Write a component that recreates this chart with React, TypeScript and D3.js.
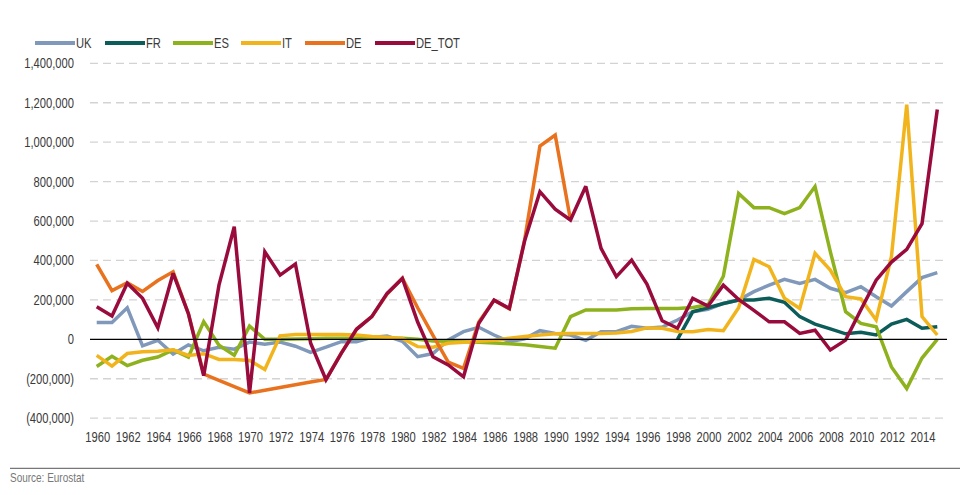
import React from "react";
import * as d3 from "d3";

const years: number[] = d3.range(1960, 2016);

const seriesNames = ["UK", "FR", "ES", "IT", "DE", "DE_TOT"];
const seriesColors = ["#8099BA", "#0C5C5A", "#8EB21E", "#F2B41C", "#E8721E", "#9A0B3D"];

// values in thousands, 1960..2015 (null = no data)
const UK = [85, 85, 160, -33, -5, -75, -28, -58, -40, -50, -14, -25, -14, -35, -66, -40, -12, -12, 10, 17, -10, -88, -72, -3, 39, 61, 22, -12, 3, 44, 30, 22, -5, 39, 39, 66, 56, 62, 98, 140, 152, 182, 199, 242, 275, 304, 284, 304, 259, 237, 267, 216, 169, 242, 313, 338];
const FR = [null, null, null, null, null, null, null, null, null, null, null, null, null, null, null, null, null, null, null, null, null, null, null, null, null, null, null, null, null, null, null, null, null, null, null, null, null, null, 0, 140, 160, 182, 199, 200, 208, 188, 115, 77, 53, 28, 36, 22, 77, 101, 56, 64];
const ES = [-138, -86, -133, -106, -90, -54, -90, 90, -30, -81, 67, 0, 0, 2, 3, 5, 5, 5, 5, 5, 5, 0, -8, -10, -12, -15, -18, -22, -28, -36, -45, 115, 149, 149, 149, 155, 157, 157, 157, 162, 175, 320, 740, 668, 668, 637, 668, 775, 445, 140, 81, 64, -140, -250, -95, 0];
const IT = [-81, -136, -72, -63, -60, -53, -82, -73, -102, -102, -107, -153, 18, 25, 25, 25, 25, 22, 15, 10, 5, -37, -40, -20, -15, -10, -5, 5, 14, 22, 28, 30, 30, 30, 32, 40, 58, 56, 40, 39, 50, 44, 160, 405, 368, 208, 157, 436, 351, 216, 205, 98, 420, 1190, 115, 22];
const DE = [380, 247, 287, 243, 298, 343, 130, -176, -208, -240, -272, -258, -244, -230, -216, -203, -70, 52, 115, 230, 310, 160, 20, -115, -147, 88, 198, 155, 505, 980, 1036, 605, null, null, null, null, null, null, null, null, null, null, null, null, null, null, null, null, null, null, null, null, null, null, null, null];
const DE_TOT = [165, 118, 284, 208, 59, 335, 130, -184, 275, 571, -272, 444, 326, 382, -20, -205, -71, 51, 115, 233, 309, 88, -88, -130, -190, 81, 199, 157, 500, 749, 660, 605, 776, 461, 318, 402, 280, 94, 56, 208, 169, 275, 202, 147, 89, 89, 30, 46, -54, -4, 150, 300, 392, 456, 587, 1166];

const seriesValues = [UK, FR, ES, IT, DE, DE_TOT];

const yTicks = [-400000, -200000, 0, 200000, 400000, 600000, 800000, 1000000, 1200000, 1400000];
const xTickYears = d3.range(1960, 2015, 2);

const FONT = "'Liberation Sans', Arial, sans-serif";
const NARROW = 0.8;

function NText(props: { x: number; y: number; anchor?: string; size?: number; fill?: string; children: React.ReactNode }) {
  const { x, y, anchor = "start", size = 14, fill = "#3a3a3a", children } = props;
  return (
    <text
      transform={`translate(${x},${y}) scale(${NARROW},1)`}
      textAnchor={anchor}
      fontFamily={FONT}
      fontSize={size}
      fill={fill}
    >
      {children}
    </text>
  );
}

export default function App() {
  const W = 960, H = 495;
  const x = d3.scaleLinear().domain([1960, 2015]).range([96.7, 937.3]);
  const y = d3.scaleLinear().domain([-400000, 1400000]).range([418.2, 63.3]);
  const gridX0 = 90, gridX1 = 947;

  const fmt = (v: number) => {
    const s = d3.format(",")(Math.abs(v));
    return v < 0 ? `(${s})` : s;
  };

  const line = d3
    .line<[number, number | null]>()
    .defined((d) => d[1] !== null)
    .x((d) => x(d[0]))
    .y((d) => y((d[1] as number) * 1000));

  const legendX = [35, 105, 173, 241, 305, 375];

  return (
    <svg width={W} height={H} style={{ position: "absolute", left: 0, top: 0, background: "#fff" }}>
      {/* grid */}
      {yTicks.map((t) => (
        <g key={t}>
          {t !== 0 && (
            <line x1={gridX0} x2={gridX1} y1={y(t)} y2={y(t)} stroke="#d3d3d3" strokeWidth={1.3} strokeDasharray="8,5" />
          )}
          <NText x={74} y={y(t) + 5} anchor="end">
            {fmt(t)}
          </NText>
        </g>
      ))}
      {/* x labels */}
      {xTickYears.map((yr) => (
        <NText key={yr} x={x(yr) + 1} y={442} anchor="middle">
          {yr}
        </NText>
      ))}
      {/* lines */}
      {seriesValues.map((vals, i) => (
        <path
          key={seriesNames[i]}
          d={line(years.map((yr, j) => [yr, vals[j]] as [number, number | null])) || ""}
          fill="none"
          stroke={seriesColors[i]}
          strokeWidth={3.5}
          strokeLinejoin="miter"
          strokeMiterlimit={3}
        />
      ))}
      {/* zero line */}
      <line x1={gridX0} x2={gridX1} y1={y(0)} y2={y(0)} stroke="#000" strokeWidth={1.3} />
      {/* legend */}
      {seriesNames.map((n, i) => (
        <g key={n}>
          <line x1={legendX[i]} x2={legendX[i] + 40} y1={43} y2={43} stroke={seriesColors[i]} strokeWidth={4} />
          <NText x={legendX[i] + 41} y={48}>
            {n}
          </NText>
        </g>
      ))}
      {/* bottom rule and source */}
      <line x1={10} x2={W} y1={468.3} y2={468.3} stroke="#555" strokeWidth={1} />
      <NText x={10} y={481.5} size={12.5} fill="#777">
        Source: Eurostat
      </NText>
    </svg>
  );
}
